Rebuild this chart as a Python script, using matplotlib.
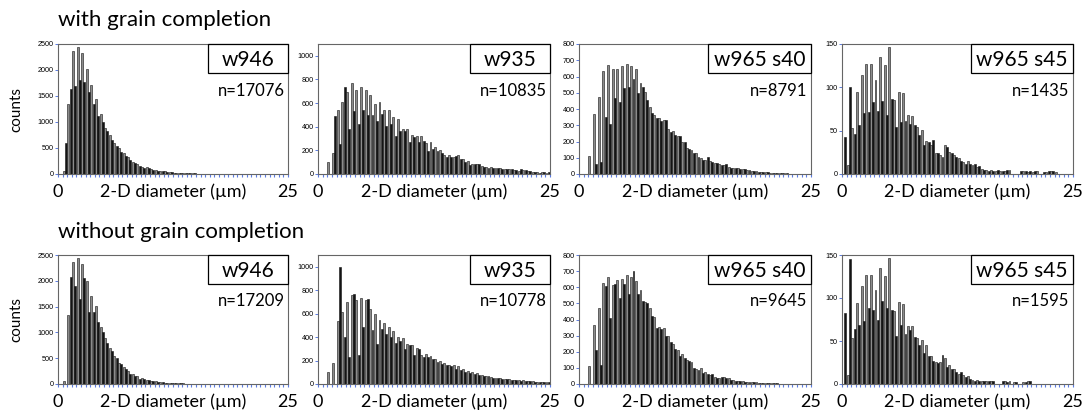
import numpy as np
import matplotlib
matplotlib.use('Agg')
import matplotlib.pyplot as plt
from matplotlib.patches import Rectangle

plt.rcParams['font.family'] = ['Lato', 'DejaVu Sans']

# bin width 0.25 um, bins from 0 to 25 um
bin_w = 0.25
n_bins = 100

# ---- with grain completion ----
r1_w946 = [0, 0, 64, 592, 1352, 1642, 2363, 1687, 2447, 1816, 2318, 1771, 2016, 1578, 1707, 1352,
           1436, 1114, 1146, 998, 889, 818, 753, 657, 592, 547, 502, 418, 399, 354, 335, 270,
           225, 206, 193, 148, 142, 110, 129, 110, 97, 84, 77, 64, 64, 52, 52, 39, 32, 32,
           26, 26, 19, 18, 15, 14, 12, 12, 10, 10, 8, 8, 7, 6, 6, 5, 5, 4, 4, 3,
           3, 3, 2, 2, 2, 2, 1, 1, 1, 1]
r1_w935 = [0, 0, 0, 0, 103, 0, 180, 487, 539, 254, 607, 732, 692, 382, 767, 533, 715, 424, 738, 539,
           715, 496, 667, 496, 596, 447, 607, 504, 544, 402, 544, 419, 481, 325, 467, 362, 382, 368, 382, 268,
           333, 310, 325, 268, 325, 282, 259, 197, 268, 211, 225, 197, 202, 174, 160, 140, 160, 140, 140, 154,
           160, 131, 125, 103, 111, 77, 88, 83, 88, 88, 68, 63, 60, 54, 60, 54, 48, 48, 48, 46,
           46, 40, 40, 40, 31, 31, 26, 40, 31, 31, 26, 26, 17, 17, 20, 11, 17, 17, 11, 20]
r1_s40 = [0, 0, 0, 0, 113, 0, 368, 62, 473, 74, 631, 348, 673, 306, 648, 467, 648, 442, 662, 529,
          679, 533, 666, 584, 644, 498, 560, 533, 504, 453, 415, 374, 364, 344, 346, 325, 330, 330, 280, 260,
          267, 240, 234, 234, 195, 200, 158, 152, 148, 128, 128, 107, 101, 86, 86, 107, 80, 76, 70, 66,
          62, 56, 56, 60, 45, 39, 37, 39, 39, 29, 33, 29, 27, 25, 20, 18, 16, 15, 12, 12,
          10, 10, 8, 8, 7, 6, 5, 5, 4, 4, 3, 3, 2, 2, 2, 1, 1, 1, 1, 1]
r1_s45 = [0, 43, 10, 100, 53, 46, 95, 56, 114, 70, 127, 72, 127, 83, 109, 73, 135, 84, 126, 68,
          147, 86, 85, 54, 95, 60, 93, 61, 68, 58, 67, 57, 54, 45, 51, 33, 38, 37, 34, 39,
          24, 24, 22, 20, 34, 31, 25, 24, 22, 20, 18, 15, 14, 12, 15, 11, 10, 12, 8, 9,
          6, 5, 5, 4, 5, 4, 4, 5, 3, 4, 4, 5, 5, 0, 0, 0, 0, 3, 3, 3,
          2, 3, 2, 3, 3, 0, 0, 2, 2, 3, 3, 4, 2, 0, 0, 0, 0, 0, 0, 0]

# ---- without grain completion ----
r2_w946 = [0, 0, 50, 0, 1340, 2070, 2370, 1890, 2450, 1640, 2320, 2060, 1990, 1400, 1700, 1400,
           1510, 1210, 1100, 1000, 900, 800, 700, 640, 540, 500, 400, 380, 330, 290, 250, 200,
           190, 150, 150, 100, 110, 90, 80, 70, 60, 55, 50, 40, 35, 30, 28, 25, 20, 18,
           15, 14, 12, 10, 10, 8, 7, 6, 6, 5, 4, 4, 3, 3, 3, 2, 2, 2, 1, 1]
r2_w935 = [0, 0, 0, 0, 100, 0, 178, 0, 540, 1000, 610, 400, 695, 230, 755, 770, 720, 250, 735, 490,
           715, 725, 640, 460, 600, 340, 545, 470, 520, 430, 490, 400, 455, 350, 400, 370, 395, 300, 340, 330,
           330, 250, 310, 300, 250, 230, 260, 230, 240, 210, 210, 190, 200, 170, 180, 160, 160, 150, 160, 130,
           150, 120, 130, 100, 110, 90, 100, 85, 90, 80, 80, 70, 70, 65, 60, 55, 55, 50, 50, 45,
           45, 40, 40, 35, 38, 30, 30, 28, 30, 25, 25, 22, 25, 20, 20, 18, 18, 15, 15, 20]
r2_s40 = [0, 0, 0, 0, 113, 0, 368, 210, 473, 120, 625, 605, 665, 410, 615, 620, 645, 535, 650, 620,
          675, 560, 665, 700, 640, 560, 585, 515, 510, 500, 470, 420, 415, 350, 355, 340, 345, 300, 300, 260,
          250, 220, 210, 175, 185, 160, 150, 140, 135, 100, 95, 85, 100, 70, 75, 65, 55, 60, 45, 38,
          40, 45, 45, 35, 35, 25, 22, 20, 18, 18, 16, 15, 14, 12, 12, 10, 10, 8, 8, 7,
          6, 6, 5, 5, 4, 4, 3, 3, 2, 2, 2, 1, 1, 1, 1, 1, 1, 0, 0, 0]
r2_s45 = [0, 83, 10, 145, 53, 64, 94, 69, 114, 73, 127, 88, 127, 86, 109, 75, 135, 96, 126, 88,
          147, 86, 85, 56, 95, 69, 93, 58, 68, 63, 67, 55, 54, 45, 51, 36, 45, 33, 33, 27,
          26, 25, 26, 34, 30, 20, 22, 18, 17, 14, 12, 14, 10, 8, 9, 6, 5, 4, 5, 4,
          4, 3, 4, 3, 4, 3, 0, 0, 0, 3, 3, 2, 3, 0, 2, 2, 0, 0, 2, 2,
          3, 3, 0, 0, 0, 0, 0, 0, 0, 0]

names = ['w946', 'w935', 'w965 s40', 'w965 s45']
n_row1 = ['n=17076', 'n=10835', 'n=8791', 'n=1435']
n_row2 = ['n=17209', 'n=10778', 'n=9645', 'n=1595']
ymax = [2500, 1100, 800, 150]
ytop_tick = [2500, 1000, 800, 150]
ystep = [500, 200, 100, 50]
row_titles = ['with grain completion', 'without grain completion']

counts = [[r1_w946, r1_w935, r1_s40, r1_s45],
          [r2_w946, r2_w935, r2_s40, r2_s45]]
nlabels = [n_row1, n_row2]

W, H = 1086, 412
fig = plt.figure(figsize=(W / 100, H / 100), dpi=100)

col_x = [(58, 288), (318, 550), (579, 811), (842, 1073)]
row_y = [(44, 174), (255, 384)]
box_w = [80, 80, 103, 102]

centers = (np.arange(n_bins) + 0.5) * bin_w
bar_cols = ['#8c8c8c' if i % 2 == 0 else '#141414' for i in range(n_bins)]

for r in range(2):
    y0, y1 = row_y[r]
    for c in range(4):
        x0, x1 = col_x[c]
        ax = fig.add_axes([x0 / W, 1 - y1 / H, (x1 - x0) / W, (y1 - y0) / H])
        vals = np.zeros(n_bins)
        d = counts[r][c][:n_bins]
        vals[:len(d)] = d
        ax.bar(centers, vals, width=0.21, color=bar_cols, edgecolor='#111111', linewidth=0.4)
        ax.set_xlim(0, 25)
        ax.set_ylim(0, ymax[c])
        for s in ax.spines.values():
            s.set_color('#666666')
            s.set_linewidth(0.8)
        # x ticks: small blue marks every 0.5 um
        ax.set_xticks(np.arange(0, 25.01, 0.5))
        ax.tick_params(axis='x', direction='out', length=2.5, width=0.8, color='#5b7be0',
                       labelbottom=False)
        yt = np.arange(0, ytop_tick[c] + 1, ystep[c])
        ax.set_yticks(yt)
        ax.set_yticklabels([str(v) for v in yt], family=['Liberation Sans'], fontsize=5.2)
        ax.tick_params(axis='y', direction='out', length=2, width=0.7, color='#5b7be0', pad=1)
        # bottom labels
        ax.text(0, -0.075, '0', transform=ax.get_xaxis_transform(), ha='center', va='top', fontsize=13)
        ax.text(25, -0.075, '25', transform=ax.get_xaxis_transform(), ha='center', va='top', fontsize=13)
        ax.text(0.5, -0.075, '2-D diameter (\u00b5m)', transform=ax.transAxes, ha='center', va='top',
                fontsize=13)
        # sample name box
        bw = box_w[c] / (x1 - x0)
        bh = 29 / (y1 - y0)
        ax.add_patch(Rectangle((1 - bw, 1 - bh), bw, bh, transform=ax.transAxes, facecolor='white',
                               edgecolor='black', linewidth=0.9, zorder=5, clip_on=False))
        ax.text(1 - bw / 2, 1 - bh / 2 - 0.01, names[c], transform=ax.transAxes, ha='center',
                va='center', fontsize=15, zorder=6)
        ax.text(0.985, 0.64, nlabels[r][c], transform=ax.transAxes, ha='right', va='center',
                fontsize=12)
        if c == 0:
            ax.set_ylabel('counts', fontsize=11, labelpad=10)

fig.text(58 / W, 1 - 20 / H, row_titles[0], ha='left', va='center', fontsize=16)
fig.text(58 / W, 1 - 232 / H, row_titles[1], ha='left', va='center', fontsize=16)

fig.savefig('out.png', dpi=100)
